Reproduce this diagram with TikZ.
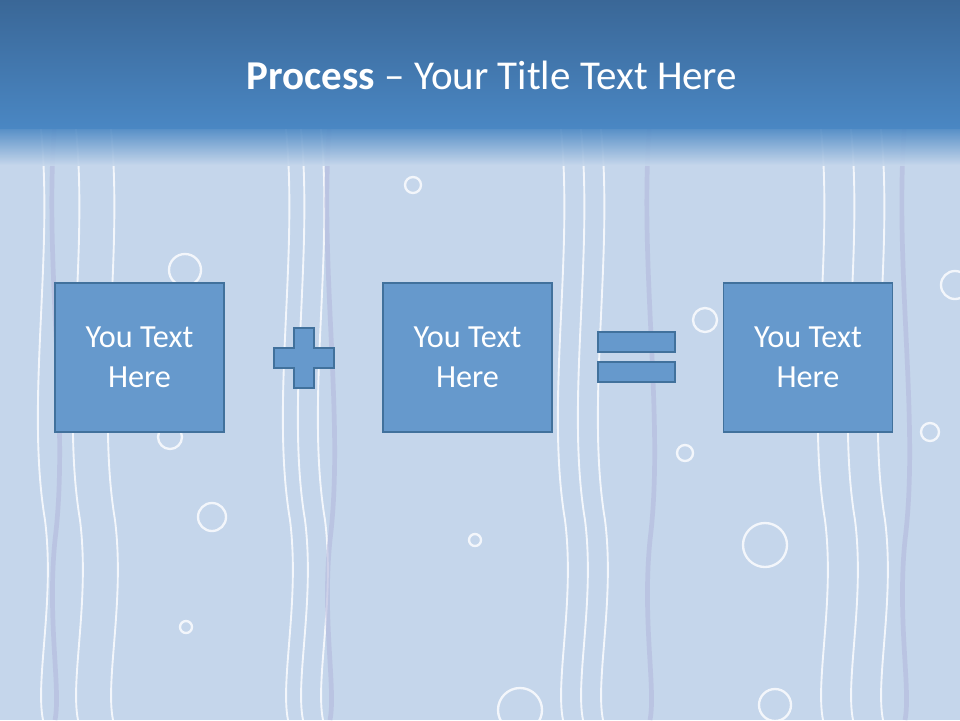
\documentclass[tikz,border=0pt]{standalone}
\usepackage{fontspec}
\setmainfont{Carlito}
\begin{document}
\begin{tikzpicture}[x=0.03cm,y=-0.03cm,
  box/.style={draw=boxedge,line width=1.5pt,fill=boxfill,text=white,align=center,font=\fontsize{27.5}{34}\selectfont,minimum width=169*0.03cm,minimum height=149*0.03cm,inner sep=0pt},
  sym/.style={draw=boxedge,line width=1.5pt,fill=boxfill},
  wave/.style={white,line width=1.6pt,opacity=0.8},
  wavep/.style={wavecol,line width=4pt,opacity=0.6},
  ring/.style={white,line width=2pt,opacity=0.8}]
\definecolor{boxfill}{HTML}{6699CC}
\definecolor{boxedge}{HTML}{41719C}
\definecolor{bg}{HTML}{C5D6EB}
\definecolor{htop}{HTML}{3A6797}
\definecolor{hbot}{HTML}{4A87C3}
\definecolor{wavecol}{HTML}{B4B8DC}
\useasboundingbox (0,0) rectangle (960,720);
\fill[bg] (0,0) rectangle (960,720);
\foreach \x in {40,75,110,285,300,320,560,580,600,820,850,880}{
  \draw[wave] (\x,120) .. controls (\x+15,250) and (\x-15,400) .. (\x+5,520) .. controls (\x+15,600) and (\x-5,680) .. (\x+3,720);}
\foreach \x in {55,330,650,905}{
  \draw[wavep] (\x,120) .. controls (\x-12,260) and (\x+15,420) .. (\x,540) .. controls (\x-8,620) and (\x+6,690) .. (\x,720);}
\foreach \p/\r in {{(413,185)}/8,{(170,437)}/12,{(212,517)}/14,{(685,453)}/8,{(765,545)}/22,{(475,540)}/6,{(186,627)}/6,{(930,432)}/9,{(955,285)}/14,{(520,710)}/22,{(775,705)}/16,{(705,320)}/12,{(185,270)}/16}
  \draw[ring] \p circle (\r);
\shade[top color=htop,bottom color=hbot] (0,0) rectangle (960,128);
\shade[top color=hbot,bottom color=bg,opacity=0.9] (0,128) rectangle (960,165);
\node[text=white,font=\fontsize{35}{40}\selectfont] (title) at (492,75) {\textbf{Process} -- Your Title Text Here};
\node[box] (b1) at (139.5,357.5) {You Text\\Here};
\node[box] (b2) at (467.5,357.5) {You Text\\Here};
\node[box] (b3) at (808,357.5) {You Text\\Here};
\draw[sym] (294,328) -- (314,328) -- (314,348) -- (334,348) -- (334,368) -- (314,368) -- (314,388) -- (294,388) -- (294,368) -- (274,368) -- (274,348) -- (294,348) -- cycle;
\draw[sym] (598,332) rectangle (675,352);
\draw[sym] (598,362) rectangle (675,382);
\end{tikzpicture}
\end{document}
